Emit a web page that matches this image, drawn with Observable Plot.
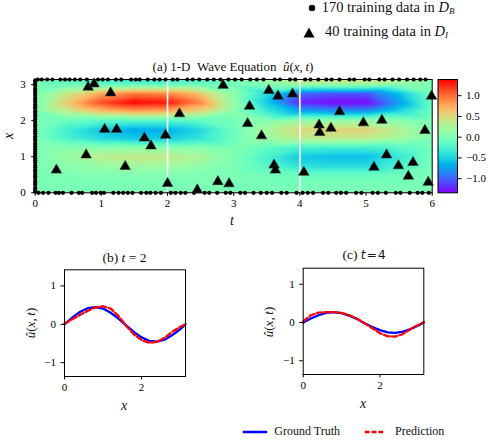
<!DOCTYPE html>
<html>
<head>
<meta charset="utf-8">
<script src="https://cdn.jsdelivr.net/npm/d3@7"></script>
<script src="https://cdn.jsdelivr.net/npm/@observablehq/plot@0.6"></script>
<style>
  html, body { margin: 0; padding: 0; background: #fff; }
  #fig { position: relative; width: 489px; height: 444px; overflow: hidden; font-family: 'Liberation Serif', 'Times New Roman', serif; color: #111; }
  #fig svg text { font-family: 'Liberation Serif', 'Times New Roman', serif; }
  .lbl { position: absolute; white-space: nowrap; line-height: 1; }
  .c { transform: translate(-50%, -50%); }
  .rot { transform: translate(-50%, -50%) rotate(-90deg); }
</style>
</head>
<body>
<div id="fig"></div>
<script>
// ---------------- data ----------------
const tGrid = [0, 0.5, 1, 1.5, 2, 2.5, 3, 3.5, 4, 4.5, 5, 5.5, 6];
const xGrid = [0, 0.25, 0.5, 0.75, 1.0, 1.25, 1.5, 1.75, 2.0, 2.25, 2.5, 2.75, 3.0, 3.1416];
// u(x,t) estimates, one row per xGrid value, one column per tGrid value
const uGrid = [
  [0, 0, 0, 0, 0, 0, 0, 0, 0, 0, 0, 0, 0],
  [0, 0, 0, 0, 0, 0, 0, -0.01, -0.02, -0.02, -0.02, -0.01, 0],
  [0, 0.02, 0.04, 0.05, 0.05, 0.03, 0.01, -0.04, -0.09, -0.1, -0.1, -0.06, -0.01],
  [0, 0.09, 0.16, 0.2, 0.19, 0.13, 0.02, -0.19, -0.41, -0.45, -0.45, -0.26, -0.02],
  [0, 0.18, 0.33, 0.4, 0.38, 0.26, 0.04, -0.25, -0.55, -0.6, -0.6, -0.35, -0.03],
  [0, 0.05, 0.08, 0.1, 0.1, 0.07, 0.01, -0.13, -0.28, -0.3, -0.3, -0.17, -0.02],
  [0, -0.25, -0.45, -0.55, -0.52, -0.36, -0.06, 0.15, 0.32, 0.35, 0.35, 0.2, 0.02],
  [0, -0.32, -0.57, -0.7, -0.67, -0.46, -0.07, 0.23, 0.51, 0.55, 0.55, 0.32, 0.03],
  [0, -0.09, -0.16, -0.2, -0.19, -0.13, -0.02, 0.06, 0.14, 0.15, 0.15, 0.09, 0.01],
  [0, 0.34, 0.62, 0.75, 0.71, 0.49, 0.08, -0.32, -0.69, -0.75, -0.75, -0.44, -0.04],
  [0, 0.62, 1.13, 1.38, 1.31, 0.9, 0.14, -0.55, -1.21, -1.32, -1.32, -0.77, -0.07],
  [0, 0.43, 0.78, 0.95, 0.9, 0.62, 0.1, -0.44, -0.97, -1.05, -1.05, -0.61, -0.05],
  [0, -0.05, -0.08, -0.1, -0.1, -0.07, -0.01, 0.06, 0.14, 0.15, 0.15, 0.09, 0.01],
  [0, -0.18, -0.33, -0.4, -0.38, -0.26, -0.04, 0.21, 0.46, 0.5, 0.5, 0.29, 0.03]
];
const colorDomain = [-1.34, 1.39];
const colorTicks = [-1.0, -0.5, 0.0, 0.5, 1.0];

// 40 interior training points (triangles)
const triT = [0.32, 0.80, 0.89, 1.14, 1.05, 1.23, 0.77, 1.36, 1.65, 1.75, 1.97, 2.18, 2.00, 2.45, 2.76, 2.93, 2.84,
              3.24, 3.21, 3.53, 3.67, 3.89, 3.42, 3.61, 3.63, 4.06, 4.60, 4.29, 4.30, 4.47, 4.96, 5.24, 5.31, 5.12,
              5.49, 5.71, 5.64, 5.89, 5.99, 5.94];
const triX = [0.63, 2.93, 3.02, 2.77, 1.76, 1.76, 1.05, 0.73, 1.52, 1.30, 1.60, 2.19, 0.26, 0.08, 0.31, 0.25, 2.98,
              2.40, 1.92, 2.84, 2.68, 2.74, 1.58, 0.77, 0.63, 0.57, 2.25, 1.88, 1.67, 1.79, 1.94, 2.01, 1.05, 0.71,
              0.75, 0.84, 0.46, 1.73, 2.68, 0.29];

// 170 boundary training points (dots)
const leftX = [0.03, 0.09, 0.14, 0.22, 0.27, 0.33, 0.41, 0.46, 0.52, 0.6, 0.64, 0.71, 0.77, 0.85, 0.9, 0.95, 1.03,
               1.09, 1.14, 1.21, 1.28, 1.33, 1.38, 1.46, 1.52, 1.57, 1.65, 1.71, 1.76, 1.84, 1.89, 1.96, 2.03, 2.08,
               2.15, 2.21, 2.26, 2.34, 2.4, 2.45, 2.52, 2.58, 2.63, 2.71, 2.77, 2.83, 2.88, 2.96, 3.02, 3.07, 3.12];
const bottomT = [0.05, 0.12, 0.2, 0.31, 0.36, 0.42, 0.55, 0.66, 0.71, 0.86, 0.92, 0.99, 1.04, 1.18, 1.26, 1.33, 1.4,
                 1.47, 1.6, 1.68, 1.74, 1.82, 1.9, 2.05, 2.12, 2.2, 2.27, 2.4, 2.56, 2.63, 2.75, 2.88, 2.95, 3.1, 3.17,
                 3.3, 3.41, 3.5, 3.58, 3.72, 3.8, 3.95, 4.04, 4.12, 4.2, 4.35, 4.43, 4.55, 4.62, 4.7, 4.85, 4.93, 5.1,
                 5.18, 5.3, 5.45, 5.52, 5.66, 5.78, 5.85, 5.95];
const topT = [0.04, 0.1, 0.18, 0.26, 0.38, 0.45, 0.52, 0.6, 0.68, 0.78, 0.95, 1.02, 1.1, 1.22, 1.3, 1.45, 1.52, 1.58,
              1.7, 1.8, 1.88, 1.97, 2.08, 2.15, 2.3, 2.38, 2.48, 2.6, 2.7, 2.8, 2.92, 3.02, 3.12, 3.25, 3.35, 3.45,
              3.62, 3.7, 3.85, 3.93, 4.08, 4.16, 4.28, 4.4, 4.48, 4.6, 4.75, 4.82, 4.98, 5.05, 5.2, 5.28, 5.4, 5.5,
              5.62, 5.72, 5.82, 5.9];

// slices at t = 2 and t = 4
const xProfile = [0, 0.2, 0.4, 0.6, 0.8, 1.0, 1.2, 1.4, 1.6, 1.8, 2.0, 2.2, 2.4, 2.6, 2.8, 3.0, 3.1416];
const truthT2 = [0, 0.175, 0.32, 0.42, 0.45, 0.41, 0.30, 0.15, -0.03, -0.20, -0.34, -0.43, -0.45, -0.40, -0.28, -0.13, 0];
const predT2  = [0.02, 0.13, 0.24, 0.35, 0.44, 0.47, 0.41, 0.22, -0.04, -0.26, -0.41, -0.48, -0.46, -0.35, -0.19, -0.07, 0];
const truthT4 = [0, 0.105, 0.19, 0.25, 0.27, 0.245, 0.18, 0.09, -0.02, -0.12, -0.20, -0.26, -0.27, -0.24, -0.17, -0.08, 0];
const predT4  = [0.03, 0.19, 0.26, 0.27, 0.27, 0.25, 0.19, 0.10, -0.02, -0.15, -0.28, -0.36, -0.37, -0.30, -0.17, -0.06, 0.01];

// ---------------- tables for the library ----------------
const gridPts = [];
xGrid.forEach((x, i) => tGrid.forEach((t, j) => gridPts.push({t, x, u: uGrid[i][j]})));
const tri = triT.map((t, i) => ({t, x: triX[i]}));
const boundary = [
  ...leftX.map(x => ({t: 0, x})),
  ...bottomT.map(t => ({t, x: 0})),
  ...topT.map(t => ({t, x: Math.PI}))
];
const prof = (ys) => xProfile.map((x, i) => ({x, u: ys[i]}));

// matplotlib "rainbow" colormap
function rainbow(s) {
  s = Math.max(0, Math.min(1, s));
  const cl = v => Math.round(255 * Math.max(0, Math.min(1, v)));
  const r = Math.abs(2 * s - 0.5), g = Math.sin(Math.PI * s), b = Math.cos(Math.PI * s / 2);
  return `rgb(${cl(r)},${cl(g)},${cl(b)})`;
}
const colorOpts = {type: "linear", domain: colorDomain, interpolate: rainbow};
const fmtMinus = d3.format(".1f");
const fmtInt = d3.format("d");
const SERIF = "'Liberation Serif', 'Times New Roman', serif";
const baseStyle = {fontFamily: SERIF, fontSize: "11px", color: "black", background: "transparent", overflow: "visible"};

const fig = document.getElementById("fig");
function place(el, left, top) {
  el.style.position = "absolute"; el.style.left = left + "px"; el.style.top = top + "px";
  fig.appendChild(el);
}
function text(html, x, y, size, cls = "c", extra = "") {
  const d = document.createElement("div");
  d.className = "lbl " + cls;
  d.style.left = x + "px"; d.style.top = y + "px"; d.style.fontSize = size + "px";
  if (extra) d.style.cssText += extra;
  d.innerHTML = html;
  fig.appendChild(d);
}

// ---------------- heatmap ----------------
const heat = Plot.plot({
  width: 489, height: 185,
  marginLeft: 34.7, marginRight: 57.3, marginTop: 29, marginBottom: 42.7,
  style: baseStyle,
  x: {domain: [0, 6], label: null},
  y: {domain: [0, Math.PI], label: null},
  color: colorOpts,
  marks: [
    Plot.raster(gridPts, {x: "t", y: "x", fill: "u", interpolate: "barycentric"}),
    Plot.ruleX([2, 4], {stroke: "white", strokeWidth: 1.6}),
    Plot.frame({stroke: "black", strokeWidth: 1}),
    Plot.axisX({ticks: [0, 1, 2, 3, 4, 5, 6], tickSize: 3.5, tickPadding: 3, tickFormat: fmtInt, label: null}),
    Plot.axisY({ticks: [0, 1, 2, 3], tickSize: 3.5, tickPadding: 6, tickFormat: fmtInt, label: null}),
    Plot.dot(boundary, {x: "t", y: "x", r: 2.1, fill: "black"}),
    Plot.dot(tri, {x: "t", y: "x", symbol: "triangle", r: 3.9, fill: "black", stroke: "#333", strokeWidth: 0.6})
  ]
});
place(heat, 0, 50);

// ---------------- colorbar ----------------
const cbar = Plot.plot({
  width: 52, height: 185,
  marginLeft: 0.5, marginRight: 32, marginTop: 29, marginBottom: 42.7,
  style: baseStyle,
  x: {domain: [0, 1], axis: null},
  y: {domain: colorDomain, axis: null},
  color: colorOpts,
  marks: [
    Plot.raster({fill: (x, y) => y, x1: 0, x2: 1, y1: colorDomain[0], y2: colorDomain[1], width: 1, height: 256}),
    Plot.frame({stroke: "black", strokeWidth: 1}),
    Plot.axisY({anchor: "right", ticks: colorTicks, tickSize: 3.5, tickPadding: 5, tickFormat: fmtMinus, label: null})
  ]
});
place(cbar, 437, 50);

// ---------------- slices ----------------
function slice(truth, pred, m) {
  return Plot.plot({
    width: 240, height: 180,
    marginLeft: m.l, marginRight: m.r, marginTop: m.t, marginBottom: m.b,
    style: baseStyle,
    x: {domain: [0, Math.PI], label: null},
    y: {domain: [-1.36, 1.42], label: null},
    marks: [
      Plot.line(prof(truth), {x: "x", y: "u", stroke: "#0000ff", strokeWidth: 2.3}),
      Plot.line(prof(pred), {x: "x", y: "u", stroke: "#ff0000", strokeWidth: 2.3, strokeDasharray: "5.5,2.6"}),
      Plot.frame({stroke: "black", strokeWidth: 1}),
      Plot.axisX({ticks: [0, 2], tickSize: 3.5, tickPadding: 3, tickFormat: fmtInt, label: null}),
      Plot.axisY({ticks: [-1, 0, 1], tickSize: 3.5, tickPadding: 5, tickFormat: fmtInt, label: null})
    ]
  });
}
place(slice(truthT2, predT2, {l: 64, r: 55, t: 29.3, b: 44}), 0, 240);
place(slice(truthT4, predT4, {l: 62.7, r: 56.7, t: 27.7, b: 46}), 240, 240);

// ---------------- texts ----------------
text('(a) 1-D&nbsp;&nbsp;Wave Equation&nbsp;&nbsp;<i>û</i>(<i>x</i>,&thinsp;<i>t</i>)', 233, 66, 13);
text('<i>t</i>', 232, 221, 14);
text('<i>x</i>', 9, 136, 14, "rot");
text('(b) <i>t</i> = 2', 124.5, 257.5, 13.5);
text('(c) <span style="font-family:\'DejaVu Sans\';font-size:12px"><i>t</i>&#8202;=&#8202;4</span>', 364, 255, 13.5);
text('<i>x</i>', 124, 405.5, 14);
text('<i>x</i>', 363, 404, 14);
text('<i>û</i>(<i>x</i>,&thinsp;<i>t</i>)', 30, 323, 13, "rot");
text('<i>û</i>(<i>x</i>,&thinsp;<i>t</i>)', 267.5, 322, 13, "rot");

// top legend
text('<svg width="8" height="8" style="vertical-align:middle"><circle cx="4" cy="4" r="3.2" fill="black"/></svg>', 311.7, 7.5, 14);
text('170 training data in <i>D</i><sub style="font-size:9px;font-style:italic;vertical-align:-2px">B</sub>', 321.7, 7.5, 14.5, "", "transform:translate(0,-50%)");
text('<svg width="12" height="11" style="vertical-align:middle"><path d="M6,0.5 L11.5,10.5 L0.5,10.5 Z" fill="black"/></svg>', 309, 31.5, 14);
text('40 training data in <i>D</i><sub style="font-size:9px;font-style:italic;vertical-align:-2px">I</sub>', 325, 31.5, 14.5, "", "transform:translate(0,-50%)");

// bottom legend
text('<svg width="25" height="4" style="vertical-align:middle"><line x1="0" y1="2" x2="25" y2="2" stroke="#0000ff" stroke-width="2.4"/></svg>', 255, 430.7, 12);
text('Ground Truth', 274.3, 430.7, 12, "", "transform:translate(0,-50%)");
text('<svg width="19" height="4" style="vertical-align:middle"><line x1="0" y1="2" x2="19" y2="2" stroke="#ff0000" stroke-width="2.4" stroke-dasharray="5,2"/></svg>', 374, 430.7, 12);
text('Prediction', 395, 430.7, 12, "", "transform:translate(0,-50%)");
</script>
</body>
</html>
